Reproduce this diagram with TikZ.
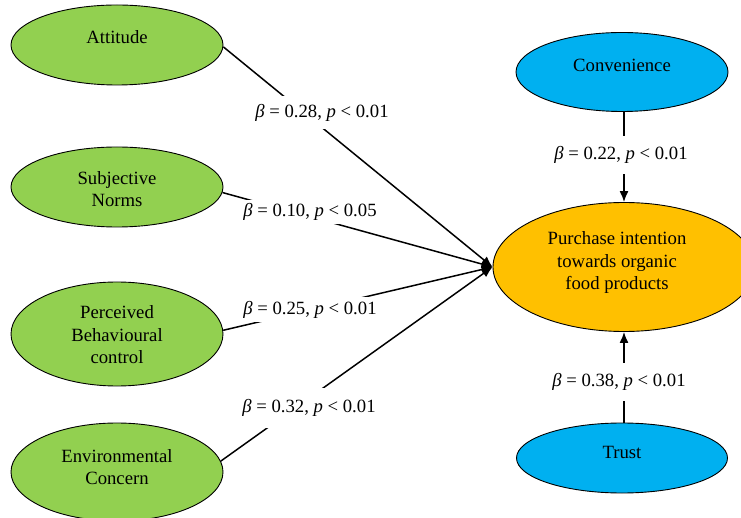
\documentclass[tikz,border=0pt]{standalone}
\usepackage{fontspec}
\setmainfont{Liberation Serif}
\usetikzlibrary{shapes.geometric,arrows.meta}
\definecolor{fgreen}{HTML}{92D050}
\definecolor{fblue}{HTML}{00B0F0}
\definecolor{forange}{HTML}{FFC000}
\begin{document}
\begin{tikzpicture}[x=1pt,y=-1pt,
  oval/.style={ellipse,draw=black,line width=0.9pt,inner sep=0pt},
  txt/.style={align=center,font=\fontsize{18.7}{22.5}\selectfont,inner sep=0pt},
  lbl/.style={fill=white,font=\fontsize{18.7}{22.5}\selectfont,inner xsep=1pt,inner ysep=2pt},
  conn/.style={line width=1.5pt,-{Latex[length=11pt,width=9pt]}}]
\useasboundingbox (0,0) rectangle (741,518);
% nodes
\node[oval,fill=fgreen,minimum width=212pt,minimum height=80pt] (att) at (117,45) {};
\node[txt] (attT) at (117,37) {Attitude};
\node[oval,fill=fgreen,minimum width=212pt,minimum height=80pt] (sub) at (117,187) {};
\node[txt] (subT) at (117,189) {Subjective\\Norms};
\node[oval,fill=fgreen,minimum width=212pt,minimum height=104pt] (per) at (117,334) {};
\node[txt] (perT) at (117,335) {Perceived\\Behavioural\\control};
\node[oval,fill=fgreen,minimum width=212pt,minimum height=98pt] (env) at (117,472) {};
\node[txt] (envT) at (117,467) {Environmental\\Concern};
\node[oval,fill=fblue,minimum width=212pt,minimum height=79pt] (con) at (622,72) {};
\node[txt] (conT) at (622,65) {Convenience};
\node[oval,fill=forange,minimum width=262pt,minimum height=129pt] (pur) at (624,267) {};
\node[txt] (purT) at (617,263) {Purchase intention\\towards organic\\food products};
\node[oval,fill=fblue,minimum width=211pt,minimum height=70pt] (tru) at (622,458) {};
\node[txt] (truT) at (622,452) {Trust};
% connectors
\draw[conn] (att.-1) -- (pur.west);
\draw[conn] (sub.-3) -- (pur.west);
\draw[conn] (per.2) -- (pur.west);
\draw[conn] (env.6) -- (pur.west);
\draw[conn] (con.south -| pur.north) -- (pur.north);
\draw[conn] (tru.north -| pur.south) -- (pur.south);
% labels
\node[lbl,minimum height=33pt] (l1) at (322,113) {\textit{β} = 0.28, \textit{p} < 0.01};
\node[lbl,minimum height=24pt] (l2) at (310,212) {\textit{β} = 0.10, \textit{p} < 0.05};
\node[lbl,minimum height=25pt] (l3) at (310,310) {\textit{β} = 0.25, \textit{p} < 0.01};
\node[lbl,minimum height=40pt] (l4) at (309,408) {\textit{β} = 0.32, \textit{p} < 0.01};
\node[lbl,minimum height=38pt] (l5) at (621,155) {\textit{β} = 0.22, \textit{p} < 0.01};
\node[lbl,minimum height=38pt] (l6) at (619,382) {\textit{β} = 0.38, \textit{p} < 0.01};
\end{tikzpicture}
\end{document}
